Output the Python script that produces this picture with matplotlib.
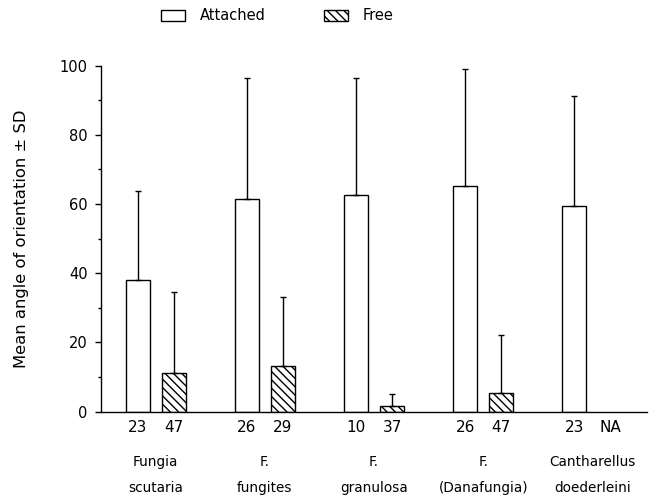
import numpy as np
import matplotlib
matplotlib.use("Agg")
import matplotlib.pyplot as plt
from matplotlib.patches import Rectangle
from matplotlib.transforms import blended_transform_factory

# ---- data ----
species = ["Fungia\nscutaria", "F.\nfungites", "F.\ngranulosa",
           "F.\n(Danafungia)", "Cantharellus\ndoederleini"]
attached_mean = [38.0, 61.4, 62.6, 65.2, 59.5]
attached_sd = [25.6, 34.9, 33.9, 33.8, 31.8]
free_mean = [11.2, 13.1, 1.5, 5.4, np.nan]
free_sd = [23.2, 20.1, 3.7, 16.6, np.nan]
attached_n = ["23", "26", "10", "26", "23"]
free_n = ["47", "29", "37", "47", "NA"]
yticks = [0, 20, 40, 60, 80, 100]

plt.rcParams["font.family"] = ["DejaVu Sans"]
plt.rcParams["hatch.linewidth"] = 1.0

fig = plt.figure(figsize=(6.54, 4.99), dpi=100)
ax = fig.add_axes([101/654, 1 - 411.5/499, (647-101)/654, (411.5-65.5)/499])

x = np.arange(len(species))
w = 0.22
off = 0.165
ax.bar(x - off, attached_mean, width=w, facecolor="white", edgecolor="black",
       linewidth=1.0, zorder=2)
fm = np.array(free_mean)
valid = ~np.isnan(fm)
ax.bar(x[valid] + off, fm[valid], width=w, facecolor="white", edgecolor="black",
       linewidth=1.0, hatch="\\\\\\\\", zorder=2)

ax.errorbar(x - off, attached_mean, yerr=[np.zeros(len(x)), attached_sd],
            fmt="none", ecolor="black", elinewidth=1.0, capsize=2.5, capthick=1.0, zorder=3)
fs = np.array(free_sd)
ax.errorbar(x[valid] + off, fm[valid], yerr=[np.zeros(valid.sum()), fs[valid]],
            fmt="none", ecolor="black", elinewidth=1.0, capsize=2.5, capthick=1.0, zorder=3)

ax.set_xlim(-0.5, 4.5)
ax.set_ylim(0, 100)
ax.set_yticks(yticks)
ax.set_yticks(np.arange(10, 100, 20), minor=True)
ax.tick_params(axis="y", which="major", length=4.5, width=1.0, labelsize=10.5, pad=5)
ax.tick_params(axis="y", which="minor", length=2.5, width=1.0)
ax.set_xticks([])
for s in ["top", "right"]:
    ax.spines[s].set_visible(False)
for s in ["left", "bottom"]:
    ax.spines[s].set_linewidth(1.0)

tr = blended_transform_factory(ax.transData, ax.transAxes)
for i in range(len(species)):
    ax.text(x[i] - off, -0.045, attached_n[i], transform=tr, ha="center", va="center", fontsize=11)
    ax.text(x[i] + off, -0.045, free_n[i], transform=tr, ha="center", va="center", fontsize=11)
    l1, l2 = species[i].split("\n")
    ax.text(x[i], -0.146, l1, transform=tr, ha="center", va="center", fontsize=9.8)
    ax.text(x[i], -0.221, l2, transform=tr, ha="center", va="center", fontsize=9.8)

fig.text(22/654, 1 - 238.5/499, "Mean angle of orientation \u00b1 SD", rotation=90,
         ha="center", va="center", fontsize=11.8)

h1 = Rectangle((0, 0), 1, 1, facecolor="white", edgecolor="black", linewidth=1.0)
h2 = Rectangle((0, 0), 1, 1, facecolor="white", edgecolor="black", linewidth=1.0, hatch="\\\\\\\\")
fig.legend([h1, h2], ["Attached", "Free"], loc="center", bbox_to_anchor=(277/654, 1 - 16/499),
           ncol=2, frameon=False, fontsize=10.5, handlelength=1.65, handleheight=0.8,
           handletextpad=1.0, columnspacing=4.0)

fig.savefig("out.png", dpi=100)
